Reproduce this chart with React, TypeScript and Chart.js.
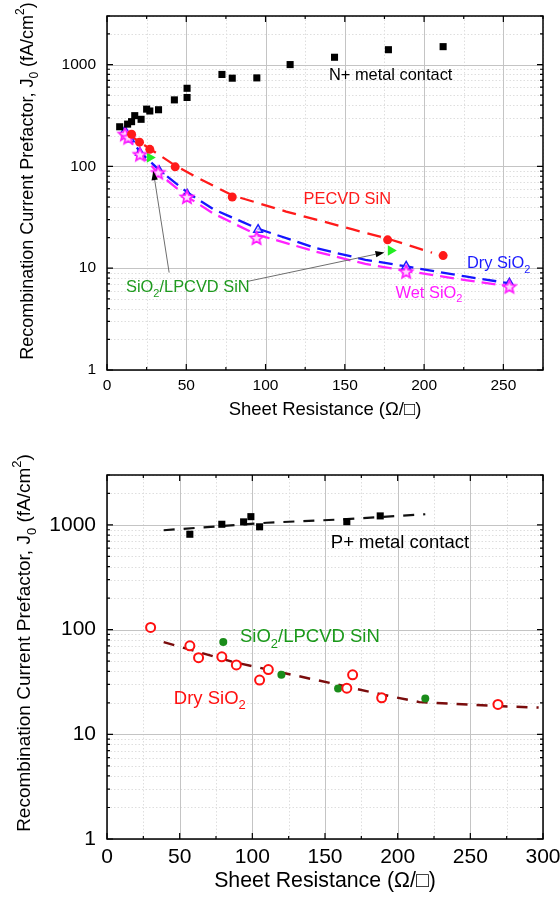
import React, { useEffect, useRef } from "react";
import { Chart, registerables } from "chart.js";
Chart.register(...registerables);

const FONT = '"Liberation Sans", Arial, sans-serif';

// ---------- Panel 1 (N+ side) ----------
const nContactR = [8, 13, 15.5, 17.5, 21.5, 25, 27, 32.5, 42.5, 50.5, 50.5, 72.5, 79, 94.5, 115.5, 143.5, 177.5, 212];
const nContactJ = [245, 260, 275, 315, 290, 365, 350, 360, 450, 475, 585, 800, 735, 740, 1000, 1180, 1400, 1500];

const pecvdR = [15.5, 20.5, 27, 43, 79, 177, 212];
const pecvdJ = [207, 173, 147, 99, 50, 19, 13.3];
const pecvdFitR = [12, 20, 27, 43, 58, 79, 113, 155, 177, 193, 205];
const pecvdFitJ = [215, 176, 149, 102, 76, 52, 36, 24, 19.5, 16.3, 14.2];

const drySiO2R = [11.3, 14.5, 20.8, 33, 50.6, 95.3, 188.7, 253.8];
const drySiO2J = [223, 185, 136, 90, 53, 23.9, 10.4, 7.1];
const drySiO2FitR = [11, 21, 33, 51, 67, 95, 132, 163, 189, 226, 254];
const drySiO2FitJ = [225, 138, 92, 55, 38, 24.5, 15.7, 12.1, 10.4, 8.3, 7.1];

const wetSiO2R = [11.3, 13.4, 20.8, 32.3, 50.4, 94.3, 188.7, 253.8];
const wetSiO2J = [207, 192, 131, 87, 50, 19.8, 9.25, 6.6];
const wetSiO2FitR = [11, 21, 32, 50, 67, 94, 132, 163, 189, 226, 254];
const wetSiO2FitJ = [210, 132, 87, 51, 34.5, 21.5, 14.5, 11, 9.4, 7.65, 6.6];

const lpcvd1R = [27, 179];
const lpcvd1J = [122, 14.9];

// ---------- Panel 2 (P+ side) ----------
const pContactR = [57, 79, 94, 99, 105, 165, 188];
const pContactJ = [815, 1015, 1070, 1200, 960, 1075, 1220];
const pContactFitR = [39, 64, 110, 165, 219];
const pContactFitJ = [890, 943, 1050, 1135, 1265];

const dry2R = [30, 57, 63, 79, 89, 105, 111, 165, 169, 189, 269];
const dry2J = [105, 70, 54, 55, 46, 33, 41.5, 27.6, 37, 22.3, 19.3];
const dry2FitR = [39, 87, 120, 156, 189, 215, 269, 297];
const dry2FitJ = [76, 49, 39, 30.4, 24, 20.3, 18.6, 18];

const lpcvd2R = [80, 120, 159, 219];
const lpcvd2J = [76, 37, 27.4, 22];

// ---------- ticks ----------
const xMajor1 = [0, 50, 100, 150, 200, 250];
const xMinor1 = [25, 75, 125, 175, 225, 275];
const xMajor2 = [0, 50, 100, 150, 200, 250, 300];
const xMinor2 = [25, 75, 125, 175, 225, 275];
const yDecades = [1, 10, 100, 1000];
const yMinorMult = [2, 3, 4, 5, 6, 7, 8, 9];
const yMax = 3000;

type Seg = { t: string; s?: "sub" | "sup" };

const pts = (xs: number[], ys: number[]) => xs.map((x, i) => ({ x, y: ys[i] }));

function drawRich(ctx: CanvasRenderingContext2D, segs: Seg[], x: number, y: number, size: number, color: string, align: "left" | "center") {
  const base = `${size}px ${FONT}`;
  const small = `${Math.round(size * 0.68)}px ${FONT}`;
  ctx.fillStyle = color;
  ctx.textBaseline = "middle";
  ctx.textAlign = "left";
  let w = 0;
  for (const s of segs) {
    ctx.font = s.s ? small : base;
    w += ctx.measureText(s.t).width;
  }
  let cx = align === "center" ? x - w / 2 : x;
  for (const s of segs) {
    ctx.font = s.s ? small : base;
    const dy = s.s === "sub" ? size * 0.38 : s.s === "sup" ? -size * 0.42 : 0;
    ctx.fillText(s.t, cx, y + dy);
    cx += ctx.measureText(s.t).width;
  }
}

function starImage(color: string, r: number) {
  const c = document.createElement("canvas");
  const s = Math.ceil(2 * r + 4);
  c.width = s;
  c.height = s;
  const g = c.getContext("2d")!;
  g.translate(s / 2, s / 2 + 0.5);
  g.beginPath();
  for (let i = 0; i < 10; i++) {
    const rad = i % 2 === 0 ? r : r * 0.45;
    const ang = -Math.PI / 2 + (i * Math.PI) / 5;
    g.lineTo(rad * Math.cos(ang), rad * Math.sin(ang));
  }
  g.closePath();
  g.fillStyle = "#ffd6ff";
  g.fill();
  g.strokeStyle = color;
  g.lineWidth = 1.7;
  g.stroke();
  return c;
}

interface Decor {
  xMajor: number[];
  xMinor: number[];
  labels: { segs: Seg[]; x: number; y: number; size: number; color: string }[];
  arrows: { from: [number, number]; to: [number, number] }[];
  xTitleSize: number;
  xTitleOffset: number;
  yTitleSize: number;
  yTitleX: number;
  yTitleShift: number;
}

const yTitleSegs: Seg[] = [
  { t: "Recombination Current Prefactor, J" },
  { t: "0", s: "sub" },
  { t: " (fA/cm" },
  { t: "2", s: "sup" },
  { t: ")" },
];
const xTitleSegs: Seg[] = [{ t: "Sheet Resistance (\u03A9/\u25A1)" }];

function decorPlugin(d: Decor) {
  const yMinor: number[] = [];
  for (const dec of yDecades) for (const m of yMinorMult) if (dec * m <= yMax) yMinor.push(dec * m);
  return {
    id: "decor",
    beforeDatasetsDraw(chart: any) {
      const { ctx, chartArea: a, scales } = chart;
      const x = scales.x, y = scales.y;
      ctx.save();
      ctx.lineWidth = 1;
      ctx.strokeStyle = "#dedede";
      ctx.setLineDash([1.5, 2]);
      ctx.beginPath();
      for (const v of d.xMinor) {
        const p = Math.round(x.getPixelForValue(v)) + 0.5;
        ctx.moveTo(p, a.top); ctx.lineTo(p, a.bottom);
      }
      for (const v of yMinor) {
        const p = Math.round(y.getPixelForValue(v)) + 0.5;
        ctx.moveTo(a.left, p); ctx.lineTo(a.right, p);
      }
      ctx.stroke();
      ctx.setLineDash([]);
      ctx.strokeStyle = "#c4c4c4";
      ctx.beginPath();
      for (const v of d.xMajor) {
        const p = Math.round(x.getPixelForValue(v)) + 0.5;
        ctx.moveTo(p, a.top); ctx.lineTo(p, a.bottom);
      }
      for (const v of yDecades) {
        const p = Math.round(y.getPixelForValue(v)) + 0.5;
        ctx.moveTo(a.left, p); ctx.lineTo(a.right, p);
      }
      ctx.stroke();
      ctx.restore();
    },
    afterDatasetsDraw(chart: any) {
      const { ctx, chartArea: a, scales } = chart;
      const x = scales.x, y = scales.y;
      ctx.save();
      // arrows
      for (const ar of d.arrows) {
        const x1 = x.getPixelForValue(ar.from[0]), y1 = y.getPixelForValue(ar.from[1]);
        const x2 = x.getPixelForValue(ar.to[0]), y2 = y.getPixelForValue(ar.to[1]);
        const ang = Math.atan2(y2 - y1, x2 - x1);
        const L = 9, W = 3.2;
        ctx.strokeStyle = "#6e6e6e";
        ctx.lineWidth = 1;
        ctx.beginPath();
        ctx.moveTo(x1, y1);
        ctx.lineTo(x2 - L * Math.cos(ang), y2 - L * Math.sin(ang));
        ctx.stroke();
        ctx.fillStyle = "#000";
        ctx.beginPath();
        ctx.moveTo(x2, y2);
        ctx.lineTo(x2 - L * Math.cos(ang) + W * Math.sin(ang), y2 - L * Math.sin(ang) - W * Math.cos(ang));
        ctx.lineTo(x2 - L * Math.cos(ang) - W * Math.sin(ang), y2 - L * Math.sin(ang) + W * Math.cos(ang));
        ctx.closePath();
        ctx.fill();
      }
      // frame
      ctx.strokeStyle = "#000";
      ctx.lineWidth = 1.5;
      ctx.strokeRect(a.left, a.top, a.right - a.left, a.bottom - a.top);
      // ticks inward, all four sides
      ctx.lineWidth = 1.2;
      ctx.beginPath();
      const xt = (v: number, len: number) => {
        const p = x.getPixelForValue(v);
        ctx.moveTo(p, a.bottom); ctx.lineTo(p, a.bottom - len);
        ctx.moveTo(p, a.top); ctx.lineTo(p, a.top + len);
      };
      const yt = (v: number, len: number) => {
        const p = y.getPixelForValue(v);
        ctx.moveTo(a.left, p); ctx.lineTo(a.left + len, p);
        ctx.moveTo(a.right, p); ctx.lineTo(a.right - len, p);
      };
      d.xMajor.forEach((v) => xt(v, 6));
      d.xMinor.forEach((v) => xt(v, 3));
      yDecades.forEach((v) => yt(v, 6));
      yMinor.forEach((v) => yt(v, 3));
      ctx.stroke();
      // labels
      for (const l of d.labels) {
        drawRich(ctx, l.segs, x.getPixelForValue(l.x), y.getPixelForValue(l.y), l.size, l.color, "left");
      }
      // axis titles
      drawRich(ctx, xTitleSegs, (a.left + a.right) / 2, a.bottom + d.xTitleOffset, d.xTitleSize, "#000", "center");
      ctx.translate(d.yTitleX, (a.top + a.bottom) / 2 + d.yTitleShift);
      ctx.rotate(-Math.PI / 2);
      drawRich(ctx, yTitleSegs, 0, 0, d.yTitleSize, "#000", "center");
      ctx.restore();
    },
  };
}

const isDecade = (v: number) => Math.abs(Math.log10(v) - Math.round(Math.log10(v))) < 1e-6;

function baseOptions(xMax: number, tickSize: number, padTop: number, xAxisH: number) {
  return {
    animation: false,
    responsive: false,
    devicePixelRatio: 1,
    layout: { padding: { top: padTop, right: 17, left: 0, bottom: 0 } },
    plugins: { legend: { display: false }, tooltip: { enabled: false } },
    scales: {
      x: {
        type: "linear",
        min: 0,
        max: xMax,
        afterFit: (s: any) => { s.height = xAxisH; s.paddingLeft = 0; s.paddingRight = 0; },
        grid: { display: false, drawTicks: false },
        border: { display: false },
        ticks: {
          stepSize: 50,
          includeBounds: false,
          autoSkip: false,
          maxRotation: 0,
          color: "#000",
          padding: 6,
          font: { family: FONT, size: tickSize },
          callback: (v: any) => (Number(v) % 50 === 0 ? String(v) : ""),
        },
      },
      y: {
        type: "logarithmic",
        min: 1,
        max: yMax,
        afterFit: (s: any) => { s.width = 107; s.paddingTop = 0; s.paddingBottom = 0; },
        grid: { display: false, drawTicks: false },
        border: { display: false },
        ticks: {
          autoSkip: false,
          color: "#000",
          padding: 11,
          font: { family: FONT, size: tickSize },
          callback: (v: any) => (isDecade(Number(v)) ? String(Math.round(Number(v))) : ""),
        },
      },
    },
  };
}

function config1() {
  const star = starImage("#ff1aff", 6.8);
  return {
    type: "scatter",
    data: {
      datasets: [
        { data: pts(nContactR, nContactJ), pointStyle: "rect", pointRadius: 5, backgroundColor: "#000", borderColor: "#000", borderWidth: 0, order: 0 },
        { data: pts(pecvdR, pecvdJ), pointStyle: "circle", pointRadius: 4.5, backgroundColor: "#ff1a1a", borderColor: "#ff1a1a", borderWidth: 0, order: 0 },
        { data: pts(wetSiO2R, wetSiO2J), pointStyle: star, order: 0 },
        { data: pts(drySiO2R, drySiO2J), pointStyle: "triangle", pointRadius: 5, backgroundColor: "rgba(255,255,255,0.6)", borderColor: "#1a1aff", borderWidth: 1.5, order: 0 },
        { data: pts(lpcvd1R, lpcvd1J), pointStyle: "triangle", rotation: 90, pointRadius: 6, backgroundColor: "#22ee22", borderColor: "#22ee22", borderWidth: 0, order: 0 },
        { data: pts(pecvdFitR, pecvdFitJ), showLine: true, pointRadius: 0, borderColor: "#ff1a1a", borderWidth: 2.3, borderDash: [14, 8], order: 10 },
        { data: pts(drySiO2FitR, drySiO2FitJ), showLine: true, pointRadius: 0, borderColor: "#1515ff", borderWidth: 2.3, borderDash: [14, 7], order: 10 },
        { data: pts(wetSiO2FitR, wetSiO2FitJ), showLine: true, pointRadius: 0, borderColor: "#ff22ff", borderWidth: 2.3, borderDash: [14, 7], order: 11 },
      ],
    },
    options: baseOptions(275, 15.5, 16, 80),
    plugins: [
      decorPlugin({
        xMajor: xMajor1,
        xMinor: xMinor1,
        labels: [
          { segs: [{ t: "N+ metal contact" }], x: 140, y: 790, size: 16.4, color: "#000" },
          { segs: [{ t: "PECVD SiN" }], x: 124, y: 47, size: 16.4, color: "#ff1a1a" },
          { segs: [{ t: "Dry SiO" }, { t: "2", s: "sub" }], x: 227, y: 11, size: 16.4, color: "#1a1aff" },
          { segs: [{ t: "Wet SiO" }, { t: "2", s: "sub" }], x: 182, y: 5.7, size: 16.4, color: "#ff1aff" },
          { segs: [{ t: "SiO" }, { t: "2", s: "sub" }, { t: "/LPCVD SiN" }], x: 12, y: 6.5, size: 16.4, color: "#1f9a1f" },
        ],
        arrows: [
          { from: [39.2, 9.05], to: [29.2, 90] },
          { from: [88, 7.38], to: [175, 14.3] },
        ],
        xTitleSize: 18.5,
        xTitleOffset: 40,
        yTitleSize: 18,
        yTitleX: 28,
        yTitleShift: -12,
      }),
    ],
  };
}

function config2() {
  return {
    type: "scatter",
    data: {
      datasets: [
        { data: pts(pContactR, pContactJ), pointStyle: "rect", pointRadius: 5, backgroundColor: "#000", borderColor: "#000", borderWidth: 0, order: 0 },
        { data: pts(dry2R, dry2J), pointStyle: "circle", pointRadius: 4.5, backgroundColor: "#fff", borderColor: "#ff1010", borderWidth: 2, order: 0 },
        { data: pts(lpcvd2R, lpcvd2J), pointStyle: "circle", pointRadius: 4, backgroundColor: "#1a8c1a", borderColor: "#1a8c1a", borderWidth: 0, order: 0 },
        { data: pts(pContactFitR, pContactFitJ), showLine: true, pointRadius: 0, borderColor: "#111", borderWidth: 2.2, borderDash: [11, 9], order: 10 },
        { data: pts(dry2FitR, dry2FitJ), showLine: true, pointRadius: 0, borderColor: "#7a0c0c", borderWidth: 2.5, borderDash: [11, 9], order: 10 },
      ],
    },
    options: baseOptions(300, 21, 25, 60),
    plugins: [
      decorPlugin({
        xMajor: xMajor2,
        xMinor: xMinor2,
        labels: [
          { segs: [{ t: "P+ metal contact" }], x: 154, y: 678, size: 18.5, color: "#000" },
          { segs: [{ t: "SiO" }, { t: "2", s: "sub" }, { t: "/LPCVD SiN" }], x: 91.5, y: 84.5, size: 18.5, color: "#1a991a" },
          { segs: [{ t: "Dry SiO" }, { t: "2", s: "sub" }], x: 46, y: 22, size: 18.5, color: "#ff1010" },
        ],
        arrows: [],
        xTitleSize: 21.3,
        xTitleOffset: 42,
        yTitleSize: 19,
        yTitleX: 25,
        yTitleShift: -14,
      }),
    ],
  };
}

function Panel({ make, top, height }: { make: () => any; top: number; height: number }) {
  const ref = useRef<HTMLCanvasElement>(null);
  useEffect(() => {
    const chart = new Chart(ref.current!, make());
    return () => chart.destroy();
  }, []);
  return (
    <canvas
      ref={ref}
      width={560}
      height={height}
      style={{ position: "absolute", left: 0, top, width: 560, height, display: "block" }}
    />
  );
}

export default function App() {
  return (
    <div style={{ position: "absolute", left: 0, top: 0, width: 560, height: 899, background: "#fff" }}>
      <Panel make={config1} top={0} height={450} />
      <Panel make={config2} top={450} height={449} />
    </div>
  );
}
